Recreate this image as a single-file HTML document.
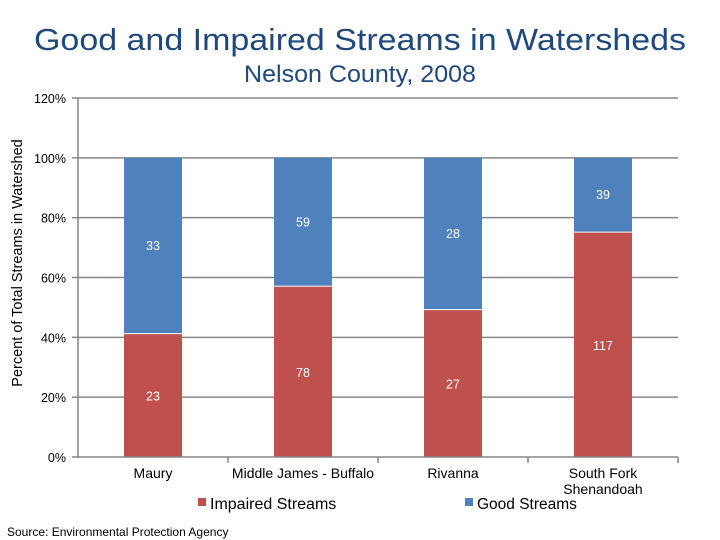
<!DOCTYPE html>
<html><head><meta charset="utf-8"><style>
body{margin:0;background:#fff;}
svg{display:block;font-family:"Liberation Sans",Arial,sans-serif;}
</style></head><body>
<svg id="chart" width="720" height="540">
<text x="360" y="50" text-anchor="middle" font-size="31" fill="#1F497D" textLength="652" lengthAdjust="spacingAndGlyphs">Good and Impaired Streams in Watersheds</text>
<text x="360" y="82" text-anchor="middle" font-size="24" fill="#1F497D" textLength="232" lengthAdjust="spacingAndGlyphs">Nelson County, 2008</text>
<text transform="translate(22,263) rotate(-90)" text-anchor="middle" font-size="14.5" fill="#000">Percent of Total Streams in Watershed</text>
<g id="grid"></g><g id="bars"></g><g id="axes"></g>
<rect x="198" y="498" width="8" height="8" fill="#C0504D"/>
<text x="210" y="509" font-size="16" fill="#000">Impaired Streams</text>
<rect x="465" y="498" width="8" height="8" fill="#4F81BD"/>
<text x="477" y="509" font-size="15.5" fill="#000">Good Streams</text>
<text x="7" y="536" font-size="12" fill="#000">Source: Environmental Protection Agency</text>
</svg>
<script>
const categories=[["Maury"],["Middle James - Buffalo"],["Rivanna"],["South Fork","Shenandoah"]];
const impaired=[23,78,27,117];
const good=[33,59,28,39];
const yTicks=[0,20,40,60,80,100,120];
const NS="http://www.w3.org/2000/svg";
const X0=78,X1=678,Y0=457,Y1=98;
const y=v=>Y0-(v/120)*(Y0-Y1);
const cw=(X1-X0)/categories.length;
const xc=i=>X0+cw*(i+0.5);
function mk(t,a,p){const e=document.createElementNS(NS,t);for(const k in a)e.setAttribute(k,a[k]);p.appendChild(e);return e;}
const grid=document.getElementById('grid'),bars=document.getElementById('bars'),axes=document.getElementById('axes');
yTicks.forEach(t=>{
  if(t>0){const g=mk('line',{x1:X0,x2:X1,y1:y(t),y2:y(t),stroke:'#868686','stroke-width':1.5},grid);
  
  }
  const tk=mk('line',{x1:X0-6,x2:X0,y1:y(t),y2:y(t),stroke:'#868686','stroke-width':1.5},axes);
  
  
  const l=mk('text',{x:66,y:y(t)+5,'text-anchor':'end','font-size':12.5},axes);l.textContent=t+'%';
  
  
});
const ax=mk('line',{x1:X0,x2:X0,y1:Y1,y2:Y0+1,stroke:'#868686','stroke-width':1.5},axes);


const xa=mk('line',{x1:X0,x2:X1,y1:Y0,y2:Y0,stroke:'#868686','stroke-width':1.5},axes);


const bw=58;
categories.forEach((c,i)=>{
  const tot=impaired[i]+good[i],pi=impaired[i]/tot*100;
  const xl=xc(i)-bw/2;
  const r1=mk('rect',{x:xl,y:y(pi),width:bw,height:Y0-y(pi),fill:'#C0504D'},bars);
  
  
  const r2=mk('rect',{x:xl,y:y(100),width:bw,height:y(pi)-y(100)-1,fill:'#4F81BD'},bars);
  
  
  const t1=mk('text',{x:xc(i),y:y(pi/2)+5,'text-anchor':'middle','font-size':12.5,fill:'#fff'},bars);t1.textContent=impaired[i];
  
  
  const t2=mk('text',{x:xc(i),y:y((pi+100)/2)+4,'text-anchor':'middle','font-size':12.5,fill:'#fff'},bars);t2.textContent=good[i];
  
  
  const tk=mk('line',{x1:X0+cw*(i+1),x2:X0+cw*(i+1),y1:Y0,y2:Y0+6,stroke:'#868686','stroke-width':1.5},axes);
  
  
  c.forEach((s,j)=>{const l=mk('text',{x:xc(i),y:478+j*16,'text-anchor':'middle','font-size':14},axes);l.textContent=s;
    
    });
});
</script>
</body></html>
